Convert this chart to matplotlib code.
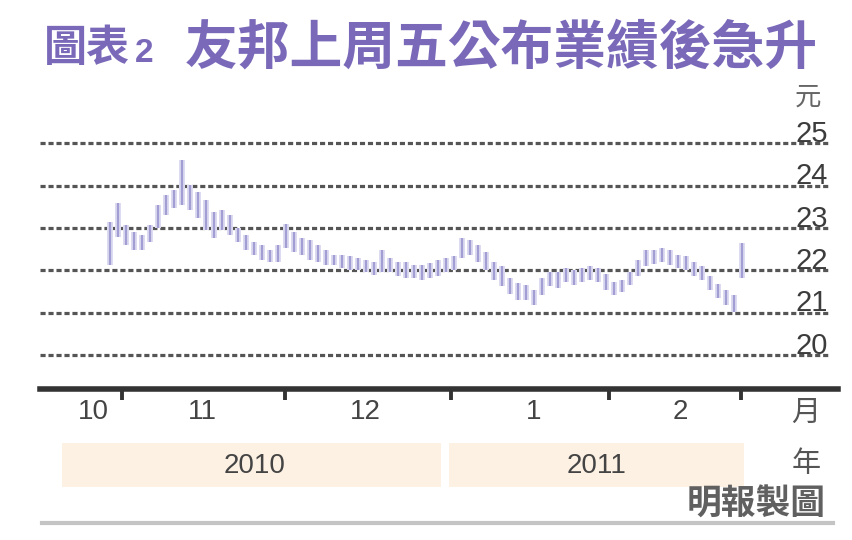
import matplotlib
matplotlib.use("Agg")
import matplotlib.pyplot as plt
from matplotlib.patches import Rectangle
from matplotlib.transforms import blended_transform_factory
import numpy as np

plt.rcParams['font.family'] = ['Noto Sans CJK TC', 'DejaVu Sans']

# ---- data ----
high = [23.14, 23.58, 23.07, 22.90, 22.83, 23.07, 23.54, 23.77, 23.89, 24.60,
        24.01, 23.84, 23.66, 23.37, 23.42, 23.30, 23.00, 22.83, 22.67, 22.59,
        22.48, 22.59, 23.10, 22.90, 22.76, 22.71, 22.59, 22.48, 22.36, 22.36,
        22.33, 22.29, 22.24, 22.19, 22.48, 22.29, 22.19, 22.19, 22.12, 22.12,
        22.17, 22.24, 22.29, 22.33, 22.76, 22.71, 22.59, 22.43, 22.19, 22.10,
        21.82, 21.70, 21.65, 21.53, 21.82, 21.96, 21.96, 22.05, 22.00, 22.05,
        22.10, 22.05, 21.91, 21.72, 21.77, 21.96, 22.24, 22.48, 22.48, 22.52,
        22.48, 22.36, 22.33, 22.19, 22.10, 21.86, 21.67, 21.53, 21.42, 22.64]
low = [22.12, 22.78, 22.59, 22.48, 22.48, 22.67, 23.00, 23.30, 23.47, 23.54,
       23.42, 23.23, 22.95, 22.76, 22.95, 22.83, 22.67, 22.48, 22.36, 22.24,
       22.19, 22.19, 22.52, 22.43, 22.36, 22.24, 22.19, 22.12, 22.12, 22.05,
       22.00, 22.00, 21.96, 21.89, 21.96, 21.96, 21.86, 21.82, 21.82, 21.77,
       21.82, 21.86, 21.96, 22.00, 22.29, 22.36, 22.19, 22.00, 21.77, 21.63,
       21.44, 21.30, 21.30, 21.18, 21.42, 21.63, 21.58, 21.72, 21.65, 21.72,
       21.77, 21.72, 21.53, 21.42, 21.49, 21.65, 21.86, 22.10, 22.15, 22.19,
       22.12, 22.05, 22.00, 21.86, 21.77, 21.53, 21.34, 21.18, 21.01, 21.82]

y_ticks = [20, 21, 22, 23, 24, 25]
month_boundaries = [1.5, 21.9, 42.6, 62.4, 78.9]   # trading-day index of month starts
month_label_pos = [-2.1, 11.6, 31.9, 52.9, 71.25]
month_labels = ['10', '11', '12', '1', '2']
years = ['2010', '2011']

title_a = '圖表'
title_b = '2'
title_c = '友邦上周五公布業績後急升'

# ---- figure ----
W, H = 853, 540
fig = plt.figure(figsize=(W / 100, H / 100), dpi=100)
fig.patch.set_facecolor('white')

def fx(px):
    return px / W

def fy(py):
    return 1 - py / H

ax = fig.add_axes([fx(40), fy(389), fx(838) - fx(40), fy(122) - fy(389)])
ax.set_facecolor('white')

n = len(high)
x = np.arange(n)
hi = np.array(high)
lo = np.array(low)

# bars
ax.bar(x, hi - lo, bottom=lo, width=0.75, color='#dddbf1', edgecolor='none', zorder=2)
ax.vlines(x, lo, hi, colors='#a29dd3', linewidth=1.6, zorder=3)

ax.set_xlim(-8.75, 91.0)
ax.set_ylim(19.2, 25.5)

# gridlines
for v in y_ticks:
    ax.axhline(v, xmin=0, xmax=0.99, color='#555555', linewidth=2.3,
               linestyle=(0, (1.6, 0.9)), zorder=1)

# y labels on right
tr = blended_transform_factory(ax.transAxes, ax.transData)
for v in y_ticks:
    ax.text(0.9875, v + 0.03, f'{v}', transform=tr, ha='right', va='baseline',
            fontsize=21, color='#3c3c3c',
            family=['Liberation Sans Narrow', 'Liberation Sans', 'DejaVu Sans'],
            zorder=4)

fig.text(fx(808), fy(97), '元', ha='center', va='center', fontsize=19, color='#666666')

# axes styling
for s in ['top', 'right', 'left']:
    ax.spines[s].set_visible(False)
ax.spines['bottom'].set_linewidth(4)
ax.spines['bottom'].set_color('#333333')
ax.set_yticks([])
ax.set_xticks(month_boundaries)
ax.set_xticklabels([''] * len(month_boundaries))
ax.tick_params(axis='x', which='major', direction='out', length=8, width=2.8,
               color='#333333')
ax.set_xticks(month_label_pos, minor=True)
ax.set_xticklabels(month_labels, minor=True)
ax.tick_params(axis='x', which='minor', length=0, pad=7, labelsize=20,
               labelcolor='#444444')
for lab in ax.get_xticklabels(minor=True):
    lab.set_family(['Liberation Sans Narrow', 'Liberation Sans', 'DejaVu Sans'])

fig.text(fx(806), fy(413), '月', ha='center', va='center', fontsize=21, color='#555555')

# year bands
fig.patches.append(Rectangle((fx(62), fy(487)), fx(441) - fx(62), fy(443) - fy(487),
                             transform=fig.transFigure, facecolor='#fdf1e4',
                             edgecolor='none', zorder=0))
fig.patches.append(Rectangle((fx(449), fy(487)), fx(744) - fx(449), fy(443) - fy(487),
                             transform=fig.transFigure, facecolor='#fdf1e4',
                             edgecolor='none', zorder=0))
for yr, cx in zip(years, [255, 597]):
    fig.text(fx(cx), fy(466), yr, ha='center', va='center', fontsize=20,
             color='#444444',
             family=['Liberation Sans Narrow', 'Liberation Sans', 'DejaVu Sans'])
fig.text(fx(806), fy(464), '年', ha='center', va='center', fontsize=21, color='#555555')

fig.text(fx(826), fy(504), '明報製圖', ha='right', va='center', fontsize=25,
         color='#606060', weight='bold')

# bottom rule
fig.add_artist(plt.Line2D([fx(42), fx(833)], [fy(523), fy(523)],
                          transform=fig.transFigure, color='#c4c4c4', linewidth=3))

# title (three parts)
tc = '#7a69b9'
fig.text(fx(44), fy(48), title_a, ha='left', va='center', fontsize=31,
         color=tc, weight='bold')
fig.text(fx(135), fy(53), title_b, ha='left', va='center', fontsize=24,
         color=tc, weight='bold', family=['Liberation Sans', 'DejaVu Sans'])
fig.text(fx(185), fy(48), title_c, ha='left', va='center', fontsize=38,
         color=tc, weight='bold')

fig.savefig('out.png', dpi=100, facecolor='white')
